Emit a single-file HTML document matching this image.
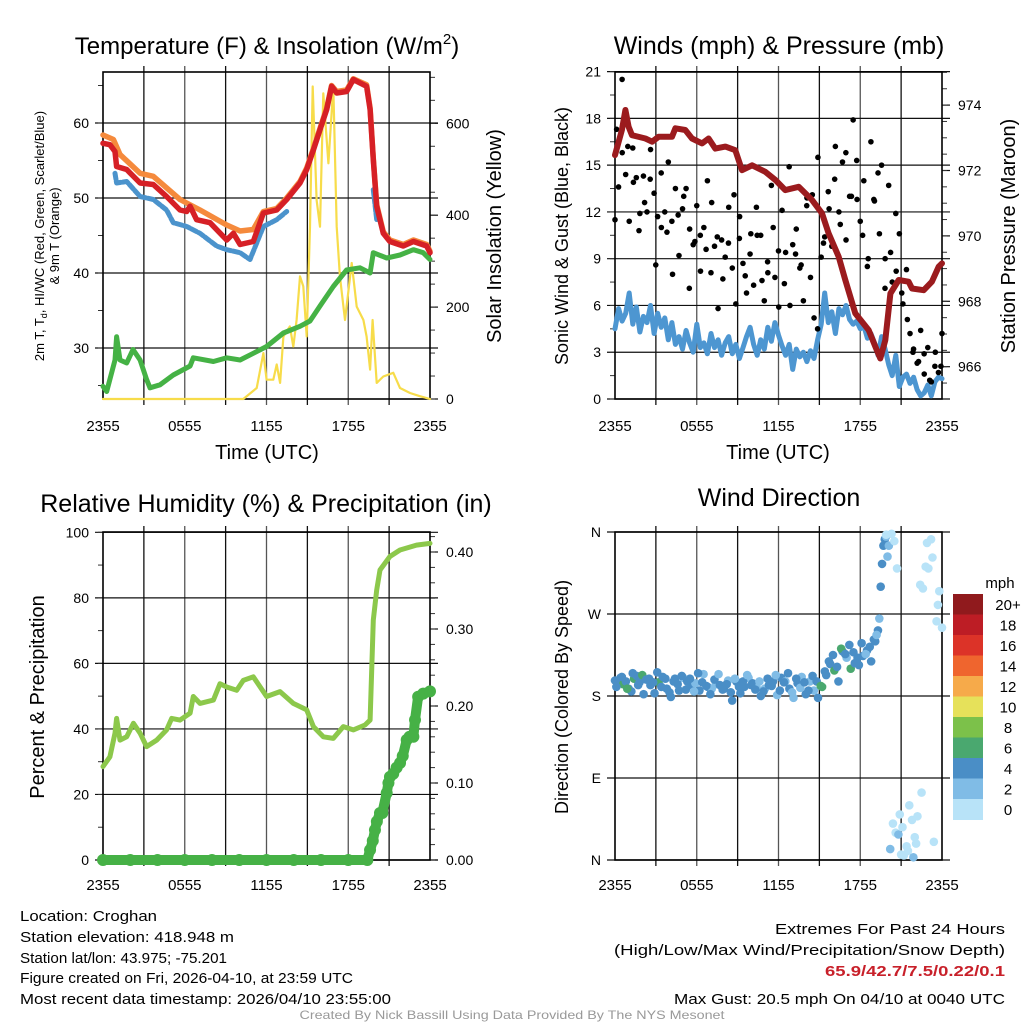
<!DOCTYPE html>
<html><head><meta charset="utf-8">
<style>
html,body{margin:0;padding:0;background:#fff;}
svg{display:block;font-family:"Liberation Sans",sans-serif;}
</style></head>
<body>
<svg id="c" width="1024" height="1024" viewBox="0 0 1024 1024" xmlns="http://www.w3.org/2000/svg">
<rect width="1024" height="1024" fill="#fff"/>
<g id="layer"></g>
<!-- titles -->
<text x="267" y="54" font-size="24" text-anchor="middle">Temperature (F) &amp; Insolation (W/m<tspan font-size="15" dy="-10">2</tspan><tspan dy="10">)</tspan></text>
<text x="779" y="54" font-size="25" text-anchor="middle">Winds (mph) &amp; Pressure (mb)</text>
<text x="266" y="512" font-size="25" text-anchor="middle">Relative Humidity (%) &amp; Precipitation (in)</text>
<text x="779" y="506" font-size="25" text-anchor="middle">Wind Direction</text>
<!-- axis titles -->
<text transform="translate(44,236) rotate(-90)" font-size="13" text-anchor="middle">2m T, T<tspan font-size="9" dy="3">d</tspan><tspan dy="-3">, HI/WC (Red, Green, Scarlet/Blue)</tspan></text>
<text transform="translate(59,236) rotate(-90)" font-size="13" text-anchor="middle">&amp; 9m T (Orange)</text>
<text transform="translate(501,236) rotate(-90)" font-size="20" text-anchor="middle">Solar Insolation (Yellow)</text>
<text transform="translate(568,236) rotate(-90)" font-size="18" text-anchor="middle">Sonic Wind &amp; Gust (Blue, Black)</text>
<text transform="translate(1015,236) rotate(-90)" font-size="20" text-anchor="middle">Station Pressure (Maroon)</text>
<text transform="translate(44,697) rotate(-90)" font-size="20" text-anchor="middle">Percent &amp; Precipitation</text>
<text transform="translate(568,697) rotate(-90)" font-size="18" text-anchor="middle">Direction (Colored By Speed)</text>
<text x="267" y="459" font-size="20" text-anchor="middle">Time (UTC)</text>
<text x="778" y="459" font-size="20" text-anchor="middle">Time (UTC)</text>
<!-- colorbar label -->
<text x="1000" y="588" font-size="15" text-anchor="middle">mph</text>
<!-- footer -->
<g font-size="15">
<text x="20" y="921" textLength="137" lengthAdjust="spacingAndGlyphs">Location: Croghan</text>
<text x="20" y="942" textLength="214" lengthAdjust="spacingAndGlyphs">Station elevation: 418.948 m</text>
<text x="20" y="963" textLength="207" lengthAdjust="spacingAndGlyphs">Station lat/lon: 43.975; -75.201</text>
<text x="20" y="983" textLength="333" lengthAdjust="spacingAndGlyphs">Figure created on Fri, 2026-04-10, at 23:59 UTC</text>
<text x="20" y="1004" textLength="371" lengthAdjust="spacingAndGlyphs">Most recent data timestamp: 2026/04/10 23:55:00</text>
</g>
<g font-size="15" text-anchor="end">
<text x="1005" y="934" textLength="230" lengthAdjust="spacingAndGlyphs">Extremes For Past 24 Hours</text>
<text x="1005" y="955" textLength="391" lengthAdjust="spacingAndGlyphs">(High/Low/Max Wind/Precipitation/Snow Depth)</text>
<text x="1005" y="976" fill="#c8202a" font-weight="bold" textLength="180" lengthAdjust="spacingAndGlyphs">65.9/42.7/7.5/0.22/0.1</text>
<text x="1005" y="1004" textLength="331" lengthAdjust="spacingAndGlyphs">Max Gust: 20.5 mph On 04/10 at 0040 UTC</text>
</g>
<text x="512" y="1019" font-size="12" fill="#999" text-anchor="middle" textLength="425" lengthAdjust="spacingAndGlyphs">Created By Nick Bassill Using Data Provided By The NYS Mesonet</text>
</svg>
<script>
// ---- data (hours after 2355 UTC) ----
const tempT=[0,0.51,0.88,1.0,1.74,2.72,3.69,4.67,5.65,6.14,6.39,6.87,7.85,9.08,9.57,10.06,11.03,11.77,12.75,13.48,14.46,14.95,15.44,15.93,16.42,16.78,17.15,17.88,18.37,19.35,19.6,19.84,20.09,20.57,21.06,22.04,22.78,23.76,24];
const tempV=[57.3,57.1,56.2,54.2,53.8,52.0,51.8,50.2,48.4,48.2,48.9,47.1,46.7,44.4,45.3,43.8,44.2,48.0,48.4,49.8,52.0,53.8,56.4,59.1,61.8,64.9,64.0,64.2,65.8,64.9,61.8,55.1,48.9,45.3,44.2,43.6,44.2,43.6,42.7];
const t9T=[0,0.76,1.25,2.72,3.69,5.65,7.12,9.08,10.06,11.03,11.77,12.75,13.48,14.46,14.95,15.44,15.93,16.42,16.78,17.15,17.88,18.37,19.35,19.6,19.84,20.09,20.57,21.06,22.04,22.78,23.76,24];
const t9V=[58.4,57.8,55.8,53.3,52.9,49.8,48.4,46.4,45.6,45.8,48.2,48.6,50.0,52.2,54.0,56.6,59.3,62.0,65.0,64.2,64.4,65.9,65.1,62.0,55.3,49.1,45.5,44.4,43.8,44.4,43.8,42.9];
const hiT=[0.88,1.0,1.74,2.72,3.69,4.67,5.16,6.14,7.12,8.34,9.08,10.06,10.79,11.77,12.75,13.48,null,14.95,null,19.84,20.09];
const hiV=[53.3,52.0,52.2,50.2,49.8,48.4,46.7,46.2,45.3,43.6,43.1,42.7,41.8,46.2,47.1,48.2,null,52.2,null,51.1,47.1];
const dewT=[0,0.27,0.88,1.0,1.25,1.74,2.2,2.72,3.2,3.45,4.18,5.16,6.39,6.63,8.1,9.08,10.06,11.03,12.01,13.24,14.46,15.19,15.93,16.9,17.88,18.86,19.6,19.84,20.82,21.8,22.78,23.5,24];
const dewV=[24.9,24.2,28.4,31.5,28.4,28.0,29.8,28.4,25.8,24.7,25.1,26.4,27.6,28.7,28.2,28.7,28.4,29.3,30.2,32.0,32.9,33.6,35.6,38.2,40.4,40.7,40.0,42.7,42.0,42.4,43.1,42.7,41.8];
const solT=[0,10.3,11.28,11.77,12.01,12.5,12.75,13.0,13.24,13.72,13.97,14.21,14.46,14.7,14.95,15.19,15.39,15.68,15.93,16.17,16.54,16.9,17.15,17.39,17.76,18.25,18.62,19.11,19.35,19.6,19.79,20.09,20.57,21.31,21.8,22.53,23.26,24];
const solV=[0,0,24,100,42,42,75,35,136,158,114,172,267,245,136,375,680,433,375,665,513,680,375,267,172,296,201,172,136,64,172,35,49,57,24,13,6,0];
const windV=[4.5,5.8,5.0,5.5,6.8,4.8,5.9,4.3,5.3,4.9,6.0,4.2,5.5,4.6,5.2,3.8,4.9,3.5,4.0,3.2,4.4,3.6,3.0,4.8,3.3,3.6,2.9,4.2,3.3,3.8,2.8,3.6,4.0,2.9,3.5,2.6,3.3,4.0,4.6,3.5,2.8,3.8,3.2,4.6,3.7,4.9,4.1,3.4,2.8,3.5,1.9,3.2,2.7,3.0,2.4,3.1,2.6,3.8,4.8,6.8,4.9,5.6,4.2,5.8,5.4,6.0,5.1,4.8,5.0,4.5,4.7,3.9,4.2,3.6,2.8,4.0,3.2,2.2,1.5,2.8,0.8,1.4,1.6,1.0,1.4,0.6,0.2,0.4,0.9,0.2,1.1,1.4,1.3];
const gustV=[11.5,13.6,20.5,14.4,11.4,16.1,14.2,11.9,14.3,12.0,16.0,13.2,11.7,14.5,12.0,15.2,11.4,13.5,9.2,12.2,13.5,10.9,9.9,12.4,10.5,11.0,14.0,8.1,9.8,5.8,10.2,9.1,12.3,8.4,6.1,10.3,8.7,6.8,9.3,7.3,10.5,10.5,6.3,8.1,13.7,7.8,9.5,12.1,9.4,14.9,9.9,10.9,8.4,6.3,12.9,7.8,5.2,4.5,9.1,10.4,13.3,9.8,16.2,12.0,15.2,10.2,13.0,17.9,15.3,11.4,14.0,8.5,16.5,12.7,14.5,15.0,9.0,13.7,7.5,11.9,10.6,6.1,8.3,4.2,3.2,2.3,4.4,1.6,3.3,1.1,2.1,1.7,4.2];
const gust2V=[17.3,15.8,16.2,13.9,10.8,12.6,14.1,8.6,11.0,10.7,8.0,11.8,13.0,7.1,10.1,8.2,9.6,12.6,10.4,7.7,10.0,13.1,11.7,7.9,10.6,12.3,7.6,8.8,11.0,5.9,7.4,6.0,9.3,8.6,12.4,13.1,15.5,10.0,12.2,14.1,11.2,15.8,13.0,12.8,10.5,9.0,12.8,10.6,7.1,9.4,8.2,6.8,5.1,3.0,2.4,2.9,1.2,3.0,2.1];
const presT=[0,0.51,0.76,1.0,1.25,2.23,2.72,3.2,4.18,4.43,5.16,5.65,6.39,6.87,7.36,8.1,8.83,9.32,10.06,11.03,11.77,12.5,13.48,14.46,15.19,15.68,16.42,16.9,17.64,18.62,19.11,19.47,19.84,20.21,20.82,21.55,21.8,22.66,23.26,23.76,24];
const presV=[972.47,973.24,973.85,973.34,973.08,972.98,972.88,973.03,973.03,973.29,973.24,972.98,972.83,972.98,972.67,972.73,972.62,972.01,972.16,971.96,971.71,971.4,971.5,971.1,970.69,970.08,969.36,968.65,967.63,967.12,966.61,966.25,966.81,968.24,968.65,968.6,968.39,968.34,968.6,969.06,969.16];
const rhT=[0,0.51,0.88,1.0,1.25,1.74,2.23,2.72,3.2,3.94,4.67,5.04,5.65,6.39,6.63,7.12,8.1,8.59,9.08,9.81,10.3,11.03,12.01,12.99,13.97,14.95,15.44,16.17,16.9,17.64,18.37,19.23,19.6,19.84,20.09,20.33,21.06,21.8,23.01,24];
const rhV=[28.5,31.5,38.7,43.2,36.6,37.6,41.7,38.7,34.6,36.6,39.7,43.2,42.7,44.8,49.9,47.8,48.8,53.8,52.8,51.8,54.8,55.9,49.9,51.4,47.8,45.8,40.7,37.6,37.1,40.7,39.7,41.2,42.7,73.2,82.4,88.5,92.6,94.6,96.1,96.6];
const prT=[0,2,4,6,8,10,12,14,16,18,19.4,19.6,19.8,19.96,20.1,20.33,20.5,20.82,20.95,21.06,21.3,21.55,21.8,22.0,22.29,22.5,22.78,22.9,23.13,23.5,24];
const prV=[0,0,0,0,0,0,0,0,0,0,0,0.013,0.025,0.039,0.05,0.061,0.061,0.087,0.1,0.108,0.112,0.12,0.126,0.135,0.156,0.16,0.16,0.182,0.212,0.216,0.219];
const dirT=[0,0.2,0.4,0.6,0.8,1.0,1.2,1.4,1.6,1.8,2.0,2.3,2.6,2.9,3.2,3.5,3.8,4.1,4.4,4.7,5.0,5.3,5.6,5.9,6.2,6.5,6.8,7.1,7.4,7.7,8.0,8.3,8.6,8.9,9.2,9.5,9.8,10.1,10.4,10.7,11.0,11.3,11.6,11.9,12.2,12.5,12.8,13.1,13.4,13.7,14.0,14.3,14.6,14.9,15.2,15.5,15.8,16.1,16.4,16.7,17.0,17.3,17.6,17.9,18.2,18.5,18.8,19.1,19.3,19.4,19.5,19.6,19.7,19.8,19.9,20.0,20.1,20.2,20.4,20.6,20.8,21.0,21.2,21.4,21.6,21.8,22.0,22.2,22.4,22.6,22.8,23.0,23.2,23.4,23.6,23.8,24];
const dirV=[197,194,200,193,196,188,185,199,202,195,203,198,192,183,195,201,188,179,199,186,200,196,192,194,186,204,190,188,193,192,188,197,175,196,183,190,200,194,189,180,188,192,196,181,200,196,188,178,194,201,182,196,186,178,190,203,215,208,196,229,222,210,216,214,224,230,218,240,252,265,300,325,345,352,355,333,345,12,40,30,28,6,5,15,60,44,25,48,302,298,322,320,352,20,262,295,255];
const dirS=[4,5,4,6,4,5,4,7,5,4,6,4,5,4,6,4,5,4,5,4,3,4,4,3,4,2,4,3,2,4,4,3,4,5,4,4,2,4,3,4,3,4,4,3,4,2,4,3,4,2,4,2,2,4,6,4,4,6,4,4,3,6,4,4,4,4,4,4,4,3,4,4,4,4,2,3,2,3,1,1,2,1,0,0,1,0,1,0,1,0,0,0,0,0,0,0,0];
const dir2T=[0.1,0.5,0.9,1.3,1.7,2.1,2.5,2.8,3.1,3.4,3.7,4.0,4.3,4.6,4.9,5.2,5.5,5.8,6.1,6.4,6.7,7.0,7.3,7.6,7.9,8.2,8.5,8.8,9.1,9.4,9.7,10.0,10.3,10.6,10.9,11.2,11.5,11.8,12.1,12.4,12.7,13.0,13.3,13.6,13.9,14.2,14.5,14.8,15.1,15.4,15.7,16.0,16.3,16.6,16.9,17.2,17.5,17.8,18.1,18.4,18.7,19.0,19.2,19.9,20.3,20.5,20.7,20.9,21.1,21.5,21.9,22.1,22.5,22.9,23.3,23.7];
const dir2V=[190,201,188,205,192,182,199,195,206,190,199,184,196,193,202,187,199,185,205,195,191,182,198,204,187,193,184,199,190,196,203,192,187,196,185,199,191,203,186,195,205,184,199,189,195,186,202,196,191,207,218,225,212,232,226,236,228,222,238,226,234,242,247,357,358,350,320,50,36,10,3,18,74,348,332,280];
const dir2S=[5,4,6,5,4,4,5,4,4,5,4,4,4,5,4,4,4,2,4,4,4,5,4,3,4,4,4,3,4,4,2,4,4,3,4,4,4,2,4,4,4,3,4,2,4,4,4,4,6,4,4,4,4,6,4,4,4,4,4,3,4,4,3,1,0,0,1,1,0,0,3,1,0,0,0,0];
const binLabels=["0","2","4","6","8","10","12","14","16","18","20+"];
const binColors=["#b8e3f8","#80bce6","#4a8ec6","#4aa86f","#7cc14a","#e6e15a","#f6aa4a","#ef652e","#dc3328","#bd1d25","#901a1d"];
const xLabels=["2355","0555","1155","1755","2355"];

const NS="http://www.w3.org/2000/svg";
const layer=document.getElementById('layer');
function el(tag,attrs,parent){const e=document.createElementNS(NS,tag);for(const k in attrs)e.setAttribute(k,attrs[k]);(parent||layer).appendChild(e);return e;}

function frame(name,x0,x1,y0,y1,xs,xLabY){
  const g=el('g',{});
  
  
  for(let h=3;h<24;h+=3){
    const l=el('line',{x1:xs(h),x2:xs(h),y1:y0-6,y2:y1+6,stroke:h%6===0?'#555':'#111','stroke-width':1.3},g);
    
    
  }
  for(let i=0;i<5;i++){
    const t=el('text',{x:xs(i*6),y:xLabY,'font-size':15,'text-anchor':'middle'},g);
    t.textContent=xLabels[i];
    
    
  }
  return g;
}
function yAxis(g,side,x0,x1,ticks,minor,ys,fmt){
  ticks.forEach((v,i)=>{
    const y=ys(v);
    if(side==='L'){
      const l=el('line',{x1:x0-8,x2:x1+8,y1:y,y2:y,stroke:'#111','stroke-width':1.2},g);
      
      
      const t=el('text',{x:x0-14,y:y+5,'font-size':14,'text-anchor':'end'},g);
      t.textContent=fmt(v,i);
      
      
    } else {
      el('line',{x1:x1,x2:x1+8,y1:y,y2:y,stroke:'#111','stroke-width':1.2},g);
      const t=el('text',{x:x1+16,y:y+5,'font-size':14,'text-anchor':'start'},g);
      t.textContent=fmt(v,i);
      
      
    }
  });
  minor.forEach(v=>{const y=ys(v);
    if(side==='L') el('line',{x1:x0-5,x2:x0,y1:y,y2:y,stroke:'#333','stroke-width':1},g);
    else el('line',{x1:x1,x2:x1+5,y1:y,y2:y,stroke:'#333','stroke-width':1},g);
  });
}
function border(g,x0,x1,y0,y1){
  el('rect',{x:x0,y:y0,width:x1-x0,height:y1-y0,fill:'none',stroke:'#000','stroke-width':1.6},g);
}
function path(T,V,xs,ys,attrs,name){
  let d='',pen=false;
  for(let i=0;i<T.length;i++){
    if(T[i]===null||V[i]===null){pen=false;continue;}
    d+=(pen?'L':'M')+xs(T[i]).toFixed(1)+','+ys(V[i]).toFixed(1);pen=true;
  }
  const p=el('path',Object.assign({d:d,fill:'none','stroke-linejoin':'round','stroke-linecap':'round'},attrs));
  
  
  return p;
}
function range(a,b,s){const r=[];for(let v=a;v<=b+1e-9;v+=s)r.push(+v.toFixed(4));return r;}

// ---------- Panel 1 ----------
{
  const x0=103,x1=430,y0=72,y1=399;
  const xs=h=>x0+h*(x1-x0)/24;
  const yL=v=>399-(v-23.2)*7.5;
  const yR=w=>399-w*0.4595;
  const g=frame('temperature',x0,x1,y0,y1,xs,431);
  yAxis(g,'L',x0,x1,[30,40,50,60],range(25,65,5),yL,v=>String(v));
  yAxis(g,'R',x0,x1,[0,200,400,600],range(0,700,50),yR,v=>String(v));
  path(solT,solV,xs,yR,{stroke:'#f7dc4a','stroke-width':2.2},'solar-insolation-line');
  path(dewT,dewV,xs,yL,{stroke:'#45b245','stroke-width':5},'dewpoint-line');
  path(t9T,t9V,xs,yL,{stroke:'#f58a3c','stroke-width':5.5},'temperature-9m-line');
  path(hiT,hiV,xs,yL,{stroke:'#4b93cc','stroke-width':5,'stroke-dasharray':'6 2'},'heat-index-windchill-line');
  path(tempT,tempV,xs,yL,{stroke:'#d62026','stroke-width':5.5},'temperature-2m-line');
  border(g,x0,x1,y0,y1);
}
// ---------- Panel 2 ----------
{
  const x0=615,x1=942,y0=72,y1=399;
  const xs=h=>x0+h*(x1-x0)/24;
  const yL=v=>399-v*15.59;
  const yR=p=>366.7-(p-966)*32.7;
  const g=frame('wind',x0,x1,y0,y1,xs,431);
  yAxis(g,'L',x0,x1,range(0,21,3),range(0,21,1.5),yL,v=>String(v));
  yAxis(g,'R',x0,x1,[966,968,970,972,974],range(965,975,0.5).filter(p=>yR(p)>=y0&&yR(p)<=y1),yR,v=>String(v));
  const tw=windV.map((v,i)=>i*24/(windV.length-1));
  path(tw,windV,xs,yL,{stroke:'#4d96d1','stroke-width':5},'sustained-wind-line');
  const tg=gustV.map((v,i)=>i*24/(gustV.length-1));
  gustV.forEach((v,i)=>{
    const c=el('circle',{cx:xs(tg[i]),cy:yL(v),r:2.8,fill:'#000'});
    
    
  });
  const tg2=gust2V.map((v,i)=>0.12+i*23.8/(gust2V.length-1));
  gust2V.forEach((v,i)=>{
    const c=el('circle',{cx:xs(tg2[i]),cy:yL(v),r:2.8,fill:'#000'});
    
    
  });
  path(presT,presV,xs,yR,{stroke:'#9b1b1e','stroke-width':6},'station-pressure-line');
  border(g,x0,x1,y0,y1);
}
// ---------- Panel 3 ----------
{
  const x0=103,x1=430,y0=532,y1=860;
  const xs=h=>x0+h*(x1-x0)/24;
  const yL=v=>860-v*3.277;
  const yR=p=>860-p*770;
  const g=frame('humidity',x0,x1,y0,y1,xs,890);
  yAxis(g,'L',x0,x1,range(0,100,20),range(0,100,10),yL,v=>String(v));
  yAxis(g,'R',x0,x1,[0,0.1,0.2,0.3,0.4],range(0,0.42,0.02),yR,v=>v.toFixed(2));
  path(rhT,rhV,xs,yL,{stroke:'#8cc84b','stroke-width':5},'relative-humidity-line');
  path(prT,prV,xs,yR,{stroke:'#46b146','stroke-width':10},'precipitation-line');
  prT.forEach((t,i)=>{
    const c=el('circle',{cx:xs(t),cy:yR(prV[i]),r:6,fill:'#46b146'});
    
    
  });
  border(g,x0,x1,y0,y1);
}
// ---------- Panel 4 ----------
{
  const x0=615,x1=942,y0=532,y1=860;
  const xs=h=>x0+h*(x1-x0)/24;
  const yL=d=>860-d*(328/360);
  const g=frame('direction',x0,x1,y0,y1,xs,890);
  yAxis(g,'L',x0,x1,[0,90,180,270,360],[],yL,(v,i)=>["N","E","S","W","N"][i]);
  dirT.forEach((t,i)=>{
    const b=Math.min(10,Math.floor(dirS[i]/2));
    const c=el('circle',{cx:xs(t),cy:yL(dirV[i]),r:4.3,fill:binColors[b]});
    
    
  });
  dir2T.forEach((t,i)=>{
    const b=Math.min(10,Math.floor(dir2S[i]/2));
    const c=el('circle',{cx:xs(t),cy:yL(dir2V[i]),r:4.3,fill:binColors[b]});
    
    
  });
  border(g,x0,x1,y0,y1);
  // colorbar
  const cb=el('g',{});
  
  
  const top=594,h=20.5;
  for(let i=0;i<binColors.length;i++){
    const k=binColors.length-1-i;
    const r=el('rect',{x:953,y:top+i*h,width:30,height:h+0.5,fill:binColors[k]},cb);
    
    
    const t=el('text',{x:1008,y:top+i*h+16,'font-size':15,'text-anchor':'middle'},cb);
    t.textContent=binLabels[k];
    
    
  }
}
</script>
</body></html>
